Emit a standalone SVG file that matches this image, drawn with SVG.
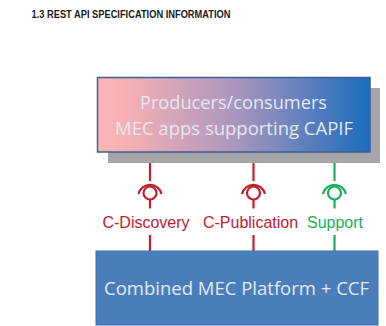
<svg xmlns="http://www.w3.org/2000/svg" width="386" height="326" viewBox="0 0 386 326">
<style>
.t{font-family:"Open Sans","Noto Sans",sans-serif;fill:#e4e8f2;text-anchor:middle;font-size:18.500px}
.l{font-family:"Liberation Sans",Arial,sans-serif;font-size:16px;text-anchor:middle}
.r{stroke:#c0202c;fill:none;stroke-width:2.2}
.g{stroke:#18b058;fill:none;stroke-width:2.2}
</style>
<defs><linearGradient id="grad"><stop offset="0" stop-color="#ffb6b8"/><stop offset="0.1" stop-color="#f8b0b4"/><stop offset="0.5" stop-color="#ab97be"/><stop offset="1" stop-color="#1a6cbc"/></linearGradient></defs>
<rect width="386" height="326" fill="#fff"/>
<text x="31.500" y="18" font-family="Liberation Sans,Arial,sans-serif" font-size="11.500" font-weight="bold" fill="#1a1a1a" textLength="199" lengthAdjust="spacingAndGlyphs">1.3 REST API SPECIFICATION INFORMATION</text>
<g id="connectors">
<path class="r" d="M150 162.500V181M150 200V208.500M150 235V251M253.500 162.500V181M253.500 200V208.500M253.500 235V251"/>
<path class="g" d="M334.500 162.500V181M334.500 200V208.500M334.500 235V251"/>
</g>
<g id="producers">
<rect x="108" y="88" width="272" height="75" fill="#a6a6a6"/>
<rect x="97.500" y="77.500" width="272.500" height="74.500" fill="url(#grad)" stroke="#3a5f96" stroke-width="1.500"/>
<text class="t" x="233.500" y="109" textLength="187" lengthAdjust="spacingAndGlyphs">Producers/consumers</text>
<text class="t" x="234" y="134.500" textLength="238" lengthAdjust="spacingAndGlyphs">MEC apps supporting CAPIF</text>
</g>
<g id="c-discovery">
<circle class="r" cx="150" cy="193" r="6.500"/>
<path class="r" d="M138.500 194A11.800 11.800 0 0 1 161.500 194"/>
<text class="l" x="146" y="228" fill="#c0202c">C-Discovery</text>
</g>
<g id="c-publication">
<circle class="r" cx="253.500" cy="193" r="6.500"/>
<path class="r" d="M242 194A11.800 11.800 0 0 1 265 194"/>
<text class="l" x="250.500" y="228" fill="#c0202c">C-Publication</text>
</g>
<g id="support">
<circle class="g" cx="334.500" cy="193" r="6.500"/>
<path class="g" d="M323 194A11.800 11.800 0 0 1 346 194"/>
<text class="l" x="335" y="228" fill="#18b058">Support</text>
</g>
<g id="platform">
<rect x="96" y="251" width="282" height="74" fill="#4a7ebb" stroke="#3f6fa8"/>
<text class="t" x="236.500" y="295" textLength="265" lengthAdjust="spacingAndGlyphs">Combined MEC Platform + CCF</text>
</g>
</svg>
